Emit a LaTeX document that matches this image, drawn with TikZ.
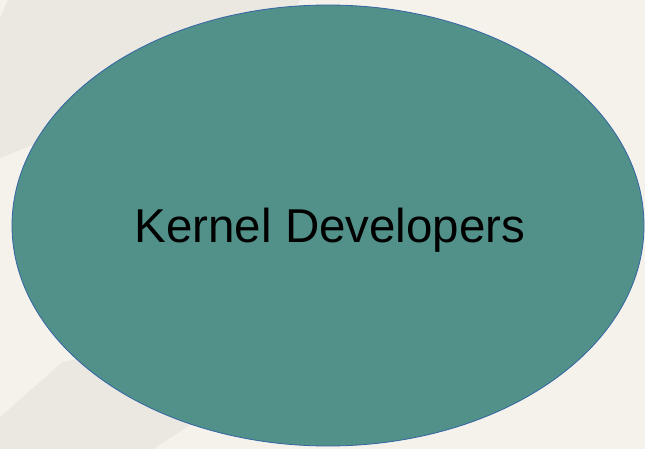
\documentclass[tikz,border=0pt]{standalone}
\usepackage{fontspec}
\setmainfont{Liberation Sans}
\definecolor{bgcol}{HTML}{F5F2EC}
\definecolor{bandcol}{HTML}{EBE8E2}
\definecolor{ellfill}{HTML}{519189}
\definecolor{ellline}{HTML}{3465A4}
\tikzset{
  band/.style={fill=bandcol, draw=none},
  bubble/.style={fill=ellfill, draw=ellline, line width=0.8pt},
  bubbletext/.style={font=\fontsize{47.5}{57}\selectfont, text=black, inner sep=0pt}
}
\begin{document}
\begin{tikzpicture}[x=1pt,y=-1pt]
\fill[bgcol] (0,0) rectangle (645,449);
\useasboundingbox (0,0) rectangle (645,449);
% background bands
\path[band] (8,0) -- (300,0) -- (250,90) -- (80,126) -- (0,158) -- (0,18) -- cycle;
\path[band] (0,417) -- (57,367) -- (62,362) -- (250,330) -- (230,400) -- (187,427) -- (153,449) -- (0,449) -- cycle;
% ellipse
\path[bubble] (328,225.5) ellipse [x radius=316, y radius=220.5];
\node[bubbletext, anchor=base] (kd) at (330,242) {Kernel Developers};
\end{tikzpicture}
\end{document}
